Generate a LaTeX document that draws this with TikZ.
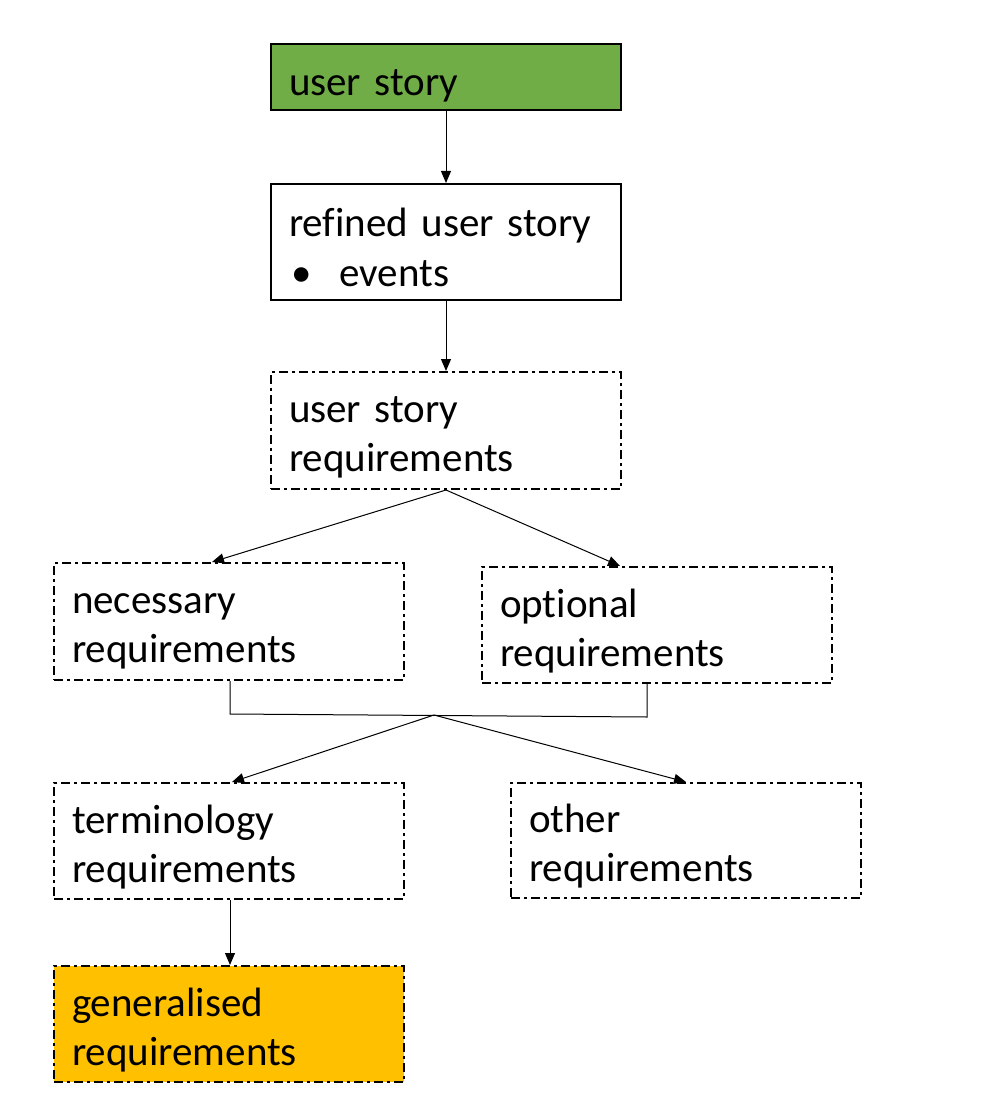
\documentclass[tikz,border=0pt]{standalone}
\usepackage{fontspec}
\setmainfont{Carlito}[Ligatures=NoCommon]
\usetikzlibrary{arrows.meta}
\definecolor{boxgreen}{HTML}{70AD47}
\definecolor{boxorange}{HTML}{FFC000}
\newcommand{\topstrut}[1]{\leavevmode\vrule width 0pt height #1\relax}
\begin{document}
\begin{tikzpicture}[x=0.5pt,y=-0.5pt,
  box/.style={draw=black, line width=1pt, minimum width=175pt, inner xsep=9pt, inner ysep=0pt,
    text width=157pt, align=left, font=\fontsize{20.5}{24.5}\selectfont, anchor=center,
    execute at begin node={\topstrut{20pt}}},
  onebox/.style={box, execute at begin node={\topstrut{22pt}}},
  dashdot/.style={dash pattern=on 4.5pt off 2pt on 1.5pt off 2pt},
  conn/.style={line width=0.5pt, -{Triangle[length=6pt,width=5pt]}},
  plain/.style={line width=0.5pt}]
\useasboundingbox (0,0) rectangle (1003,1101);
\node[onebox, fill=boxgreen, minimum height=33pt] (us) at (446,77) {user story};
\node[box, minimum height=58pt] (ref) at (446,242) {refined user story\\[0.5pt]\hspace*{1pt}\textbullet\hspace{14pt}events};
\node[box, dashdot, minimum height=58.5pt] (usr) at (446,430.5) {user story\\requirements};
\node[box, dashdot, minimum height=58.5pt] (nec) at (229,621.5) {necessary\\requirements};
\node[box, dashdot, minimum height=58pt] (opt) at (657,625) {optional\\requirements};
\node[box, dashdot, minimum height=58pt] (term) at (229,841) {terminology\\requirements};
\node[box, dashdot, minimum height=57.5pt] (oth) at (686,840.5) {other\\requirements};
\node[box, dashdot, fill=boxorange, minimum height=58pt] (gen) at (229,1024) {generalised\\requirements};
\coordinate (jl) at (230,714);
\coordinate (jr) at (647,717);
\coordinate (jm) at (434,715);
\draw[conn] (us.south) -- (ref.north);
\draw[conn] (ref.south) -- (usr.north);
\draw[conn] (usr.south) -- ([xshift=-8.5pt]nec.north);
\draw[conn] (usr.south) -- ([xshift=-18.5pt]opt.north);
\draw[plain] ([xshift=0.5pt]nec.south) -- (jl) -- (jr) -- ([xshift=-5pt]opt.south);
\draw[conn] (jm) -- ([xshift=1.5pt]term.north);
\draw[conn] (jm) -- (oth.north);
\draw[conn] ([xshift=0.5pt]term.south) -- ([xshift=0.5pt]gen.north);
\end{tikzpicture}
\end{document}
